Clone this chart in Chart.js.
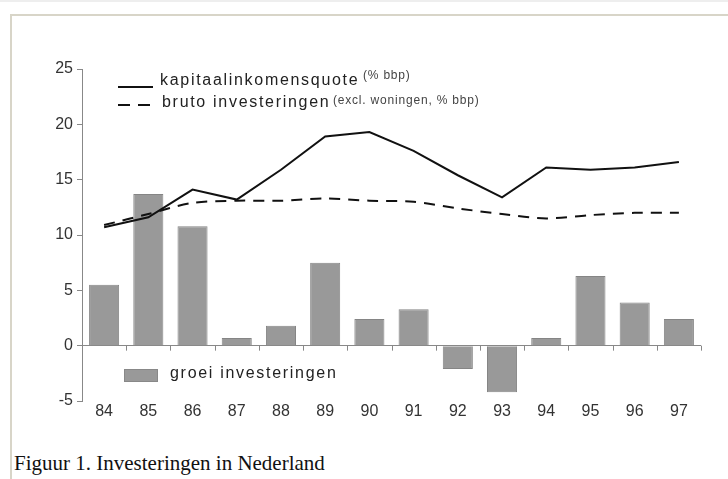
<!DOCTYPE html>
<html>
<head>
<meta charset="utf-8">
<script src="https://cdn.jsdelivr.net/npm/chart.js@4/dist/chart.umd.min.js"></script>
<style>
  body { margin: 0; background: #fff; font-family: "Liberation Sans", Arial, sans-serif; }
  #page { position: relative; width: 728px; height: 479px; overflow: hidden; border-top: 2px solid #eeeeee; box-sizing: border-box; }
  #frame { position: absolute; left: 10px; top: 12px; width: 740px; height: 480px; border-left: 2px solid #d8d5c8; border-top: 2px solid #d8d5c8; }
  #wrap { position: absolute; left: 0; top: 0; width: 728px; height: 430px; }
  .lg { position: absolute; color: #222; white-space: nowrap; }
  .big { font-size: 16px; letter-spacing: 1.7px; }
  .small { font-size: 12px; letter-spacing: 0.8px; color: #444; }
  #caption { position: absolute; left: 14px; top: 449px; font-family: "Liberation Serif", "Times New Roman", serif; font-size: 21px; color: #111; }
</style>
</head>
<body>
<div id="page">
  <div id="frame"></div>
  <div id="wrap"><canvas id="chart"></canvas></div>

  <div style="position:absolute;left:118px;top:84px;width:35px;border-top:2px solid #111;"></div>
  <div class="lg big" style="left:160px;top:69px;">kapitaalinkomensquote</div>
  <div class="lg small" style="left:363px;top:66px;">(% bbp)</div>

  <div style="position:absolute;left:118px;top:102px;width:12px;border-top:2px solid #111;"></div>
  <div style="position:absolute;left:138px;top:102px;width:12px;border-top:2px solid #111;"></div>
  <div class="lg big" style="left:162px;top:91px;">bruto investeringen</div>
  <div class="lg small" style="left:333px;top:91px;">(excl. woningen, % bbp)</div>

  <div style="position:absolute;left:124px;top:367px;width:34px;height:13px;background:#999;border:1px solid #888;box-sizing:border-box;"></div>
  <div class="lg big" style="left:170px;top:362px;">groei investeringen</div>

  <div id="caption">Figuur 1. Investeringen in Nederland</div>
</div>

<script>
// jaren
const years = ['84', '85', '86', '87', '88', '89', '90', '91', '92', '93', '94', '95', '96', '97'];

// groei investeringen (staven)
const groei = [5.5, 13.7, 10.8, 0.7, 1.8, 7.5, 2.4, 3.3, -2.1, -4.2, 0.7, 6.3, 3.9, 2.4];

// kapitaalinkomensquote (% bbp)
const kapitaal = [10.7, 11.6, 14.1, 13.2, 15.9, 18.9, 19.3, 17.6, 15.4, 13.4, 16.1, 15.9, 16.1, 16.6];

// bruto investeringen (excl. woningen, % bbp)
const bruto = [10.9, 11.9, 12.9, 13.1, 13.1, 13.3, 13.1, 13.0, 12.4, 11.9, 11.5, 11.8, 12.0, 12.0];

const yTicks = [-5, 0, 5, 10, 15, 20, 25];

// kleine streepjes onder de nullijn, tussen de categorieen
const zeroTicks = {
  id: 'zeroTicks',
  afterDatasetsDraw(chart) {
    const { ctx, scales: { x, y } } = chart;
    const y0 = y.getPixelForValue(0);
    ctx.save();
    ctx.strokeStyle = '#888';
    ctx.lineWidth = 1;
    for (let i = 0; i <= years.length; i++) {
      const px = Math.round(x.getPixelForValue(i - 0.5)) + 0.5;
      ctx.beginPath();
      ctx.moveTo(px, y0);
      ctx.lineTo(px, y0 + 5);
      ctx.stroke();
    }
    ctx.restore();
  }
};

const ctx = document.getElementById('chart').getContext('2d');
new Chart(ctx, {
  data: {
    labels: years,
    datasets: [
      {
        type: 'line',
        label: 'kapitaalinkomensquote',
        data: kapitaal,
        borderColor: '#111',
        borderWidth: 2,
        pointRadius: 0,
        tension: 0,
        order: 0,
      },
      {
        type: 'line',
        label: 'bruto investeringen',
        data: bruto,
        borderColor: '#111',
        borderWidth: 2,
        borderDash: [11, 8],
        pointRadius: 0,
        tension: 0.3,
        order: 1,
      },
      {
        type: 'bar',
        label: 'groei investeringen',
        data: groei,
        backgroundColor: '#999',
        borderColor: '#858585',
        borderWidth: 1,
        categoryPercentage: 1,
        barPercentage: 0.68,
        order: 2,
      },
    ],
  },
  options: {
    responsive: true,
    maintainAspectRatio: false,
    animation: false,
    layout: { padding: { top: 67, right: 27, left: 0, bottom: 0 } },
    plugins: { legend: { display: false }, tooltip: { enabled: false } },
    scales: {
      x: {
        afterFit: (s) => { s.height = 31; },
        grid: { display: false, drawTicks: false },
        border: { display: false },
        ticks: { color: '#333', font: { family: 'Liberation Sans', size: 16 }, padding: 1 },
      },
      y: {
        min: -5,
        max: 25,
        afterFit: (s) => { s.width = 82; },
        afterBuildTicks: (s) => { s.ticks = yTicks.map((v) => ({ value: v })); },
        grid: {
          drawOnChartArea: true,
          color: (c) => (c.tick && c.tick.value === 0 ? '#888' : 'rgba(0,0,0,0)'),
          tickColor: '#888',
          tickLength: 5,
        },
        border: { display: true, color: '#888' },
        ticks: { color: '#333', font: { family: 'Liberation Sans', size: 16 }, padding: 4 },
      },
    },
  },
  plugins: [zeroTicks],
});
</script>
</body>
</html>
